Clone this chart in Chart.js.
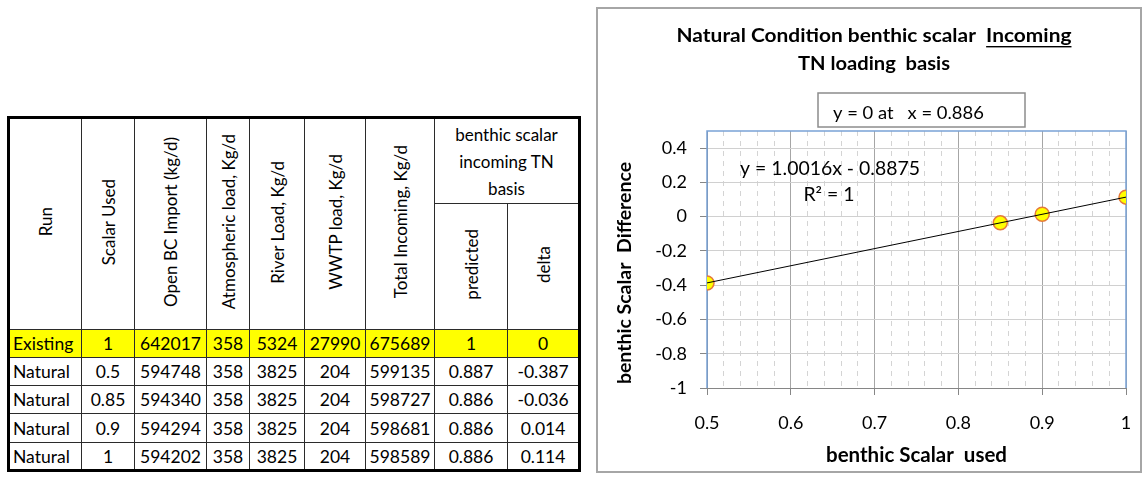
<!DOCTYPE html>
<html>
<head>
<meta charset="utf-8">
<script src="https://cdn.jsdelivr.net/npm/chart.js@4.4.1/dist/chart.umd.min.js"></script>
<style>
  body { margin: 0; width: 1144px; height: 477px; background: #fff; position: relative; overflow: hidden; font-family: Lato, sans-serif; color: #000; }
  #loads { position: absolute; left: 7px; top: 116px; border-collapse: collapse; table-layout: fixed; border: 3px solid #000; font-size: 17.5px; }
  #loads th, #loads td { border: 1px solid #2b2b2b; padding: 0; text-align: center; vertical-align: middle; font-weight: normal; white-space: nowrap; }
  #loads th { font-size: 17px; }
  #loads td.run { text-align: left; padding-left: 3px; }
  #loads tr.hl td { background: #ffff00; }
  #loads th.group { line-height: 27px; }
  .vt { display: inline-block; writing-mode: vertical-rl; transform: rotate(180deg); }
  #frame { position: absolute; left: 596px; top: 7px; width: 542px; height: 462px; border: 2px solid #a6a6a6; }
  #chart { position: absolute; left: 598px; top: 9px; }
</style>
</head>
<body>
<table id="loads">
  <colgroup id="cols"></colgroup>
  <thead>
    <tr id="head1" style="height:86px"></tr>
    <tr id="head2" style="height:126px"></tr>
  </thead>
  <tbody id="rows"></tbody>
</table>
<div id="frame"></div>
<canvas id="chart" width="542" height="462"></canvas>
<script>
// table columns
const headerLabels = ['Run', 'Scalar Used', 'Open BC Import (kg/d)', 'Atmospheric load, Kg/d', 'River Load, Kg/d', 'WWTP load, Kg/d', 'Total Incoming, Kg/d'];
const groupLabel = ['benthic scalar', 'incoming TN', 'basis'];
const groupColumns = ['predicted', 'delta'];
const colWidths = [73, 53, 72, 43, 55, 61, 69, 73, 72];

// run data
const runs = ['Existing', 'Natural', 'Natural', 'Natural', 'Natural'];
const scalarUsed = [1, 0.5, 0.85, 0.9, 1];
const openBcImport = [642017, 594748, 594340, 594294, 594202];
const atmosphericLoad = [358, 358, 358, 358, 358];
const riverLoad = [5324, 3825, 3825, 3825, 3825];
const wwtpLoad = [27990, 204, 204, 204, 204];
const totalIncoming = [675689, 599135, 598727, 598681, 598589];
const predictedScalar = [1, 0.887, 0.886, 0.886, 0.886];
const deltaScalar = [0, -0.387, -0.036, 0.014, 0.114];

// linear fit of delta vs scalar (natural runs)
const trendSlope = 1.0016;
const trendIntercept = -0.8875;
const rSquared = 1;

// axis ticks
const xTickValues = [0.5, 0.6, 0.7, 0.8, 0.9, 1];
const yTickValues = [-1, -0.8, -0.6, -0.4, -0.2, 0, 0.2, 0.4];

// ---- table ----
const cols = document.getElementById('cols');
colWidths.forEach(w => {
  const c = document.createElement('col');
  c.style.width = w + 'px';
  cols.appendChild(c);
});

const head1 = document.getElementById('head1');
headerLabels.forEach(label => {
  const th = document.createElement('th');
  th.rowSpan = 2;
  th.innerHTML = '<div class="vt">' + label + '</div>';
  head1.appendChild(th);
});
const grp = document.createElement('th');
grp.colSpan = 2;
grp.className = 'group';
grp.innerHTML = groupLabel.join('<br>');
head1.appendChild(grp);

const head2 = document.getElementById('head2');
groupColumns.forEach(label => {
  const th = document.createElement('th');
  th.innerHTML = '<div class="vt">' + label + '</div>';
  head2.appendChild(th);
});

const tbody = document.getElementById('rows');
const rowHeights = [28, 28, 28, 29, 28];
runs.forEach((run, i) => {
  const tr = document.createElement('tr');
  tr.style.height = rowHeights[i] + 'px';
  if (run === 'Existing') tr.className = 'hl';
  const cells = [run, scalarUsed[i], openBcImport[i], atmosphericLoad[i], riverLoad[i], wwtpLoad[i], totalIncoming[i], predictedScalar[i], deltaScalar[i]];
  cells.forEach((v, j) => {
    const td = document.createElement('td');
    td.textContent = String(v);
    if (j === 0) td.className = 'run';
    tr.appendChild(td);
  });
  tbody.appendChild(tr);
});

// ---- chart ----
const naturalPoints = [];
runs.forEach((run, i) => {
  if (run === 'Natural') naturalPoints.push({ x: scalarUsed[i], y: deltaScalar[i] });
});
const trendPoints = [0.5, 1].map(x => ({ x: x, y: trendSlope * x + trendIntercept }));
const zeroAt = (-trendIntercept / trendSlope).toFixed(3);

const minorX = [];
for (let k = 0; k <= 25; k++) minorX.push({ value: 0.5 + k * 0.02 });

const FONT = 'Lato';

// text drawn a little wider than the font's natural width
function wideText(ctx, text, x, y, sx, align) {
  ctx.save();
  ctx.translate(x, y);
  ctx.scale(sx, 1);
  ctx.textAlign = align;
  ctx.fillText(text, 0, 0);
  ctx.restore();
}

const chartDecor = {
  id: 'chartDecor',
  beforeDatasetsDraw(chart) {
    const { ctx, chartArea: a } = chart;
    ctx.save();
    ctx.strokeStyle = '#7aa2d6';
    ctx.lineWidth = 1.5;
    ctx.beginPath();
    ctx.moveTo(a.left, a.bottom);
    ctx.lineTo(a.left, a.top);
    ctx.lineTo(a.right, a.top);
    ctx.lineTo(a.right, a.bottom);
    ctx.stroke();
    ctx.restore();
  },
  afterDraw(chart) {
    const ctx = chart.ctx;
    ctx.save();
    ctx.fillStyle = '#000';
    ctx.textBaseline = 'middle';

    // title, with "Incoming" underlined
    const sx = 1.1;
    ctx.font = 'bold 19px ' + FONT;
    const t1a = 'Natural Condition benthic scalar  ';
    const t1b = 'Incoming';
    const w1 = ctx.measureText(t1a + t1b).width * sx;
    const cx = 276;
    const x0 = cx - w1 / 2;
    wideText(ctx, t1a + t1b, x0, 27, sx, 'left');
    const ux = x0 + ctx.measureText(t1a).width * sx;
    const uw = ctx.measureText(t1b).width * sx;
    ctx.fillRect(ux, 37, uw, 1.4);
    wideText(ctx, 'TN loading  basis', cx, 55, 1.06, 'center');

    // y axis title
    ctx.save();
    ctx.font = 'bold 19.5px ' + FONT;
    ctx.translate(27, 264);
    ctx.rotate(-Math.PI / 2);
    ctx.textAlign = 'center';
    ctx.fillText('benthic Scalar  Difference', 0, 0);
    ctx.restore();

    // zero crossing box
    ctx.strokeStyle = '#8c8c8c';
    ctx.lineWidth = 1.5;
    ctx.fillStyle = '#fff';
    ctx.fillRect(220, 84, 207, 34);
    ctx.strokeRect(220, 84, 207, 34);
    ctx.fillStyle = '#000';
    ctx.font = '17.5px ' + FONT;
    wideText(ctx, 'y = 0 at   x = ' + zeroAt, 235, 104, 1.05, 'left');

    // trendline equation
    ctx.font = '18.5px ' + FONT;
    const sign = trendIntercept < 0 ? ' - ' : ' + ';
    wideText(ctx, 'y = ' + trendSlope.toFixed(4) + 'x' + sign + Math.abs(trendIntercept).toFixed(4), 232, 160, 1.05, 'center');
    wideText(ctx, 'R\u00B2 = ' + rSquared, 231, 186, 1.05, 'center');
    ctx.restore();
  }
};

new Chart(document.getElementById('chart'), {
  type: 'scatter',
  data: {
    datasets: [
      {
        label: 'Linear (delta)',
        data: trendPoints,
        showLine: true,
        borderColor: '#000',
        borderWidth: 1,
        pointRadius: 0,
        order: 0
      },
      {
        label: 'delta',
        data: naturalPoints,
        backgroundColor: '#ffff00',
        borderColor: '#e5793a',
        borderWidth: 1.5,
        pointRadius: 7,
        order: 1
      }
    ]
  },
  options: {
    responsive: false,
    animation: false,
    layout: { padding: { top: 122, right: 14, left: 0, bottom: 0 } },
    plugins: { legend: { display: false }, tooltip: { enabled: false } },
    scales: {
      xMinor: {
        type: 'linear',
        position: 'bottom',
        min: 0.5,
        max: 1,
        afterBuildTicks: s => { s.ticks = minorX.slice(); },
        grid: { color: '#d4d4d4', drawTicks: false, z: -1 },
        border: { display: false, dash: [5, 5] },
        ticks: { display: false },
        afterFit: s => { s.height = 0; }
      },
      x: {
        type: 'linear',
        position: 'bottom',
        min: 0.5,
        max: 1,
        afterBuildTicks: s => { s.ticks = xTickValues.map(v => ({ value: v })); },
        grid: { color: '#a6a6a6', tickLength: 7, tickColor: '#868686' },
        border: { color: '#868686' },
        ticks: { color: '#000', font: { family: FONT, size: 18 }, padding: 17, maxRotation: 0, autoSkip: false, callback: v => String(v) },
        title: { display: true, text: 'benthic Scalar  used', color: '#000', font: { family: FONT, size: 20.5, weight: 'bold' }, padding: { top: 0, bottom: 3 } },
        // the label gap would otherwise widen the side margins
        afterFit: s => { s.height = 83; s.paddingLeft = 0; s.paddingRight = 0; }
      },
      y: {
        type: 'linear',
        min: -1,
        max: 0.5,
        afterBuildTicks: s => { s.ticks = yTickValues.map(v => ({ value: v })); },
        grid: { color: '#d0d0d0', tickLength: 7, tickColor: '#868686' },
        border: { color: '#868686' },
        ticks: { color: '#000', font: { family: FONT, size: 18 }, padding: 13, callback: v => String(v) },
        afterFit: s => { s.width = 109; }
      }
    }
  },
  plugins: [chartDecor]
});
</script>
</body>
</html>
